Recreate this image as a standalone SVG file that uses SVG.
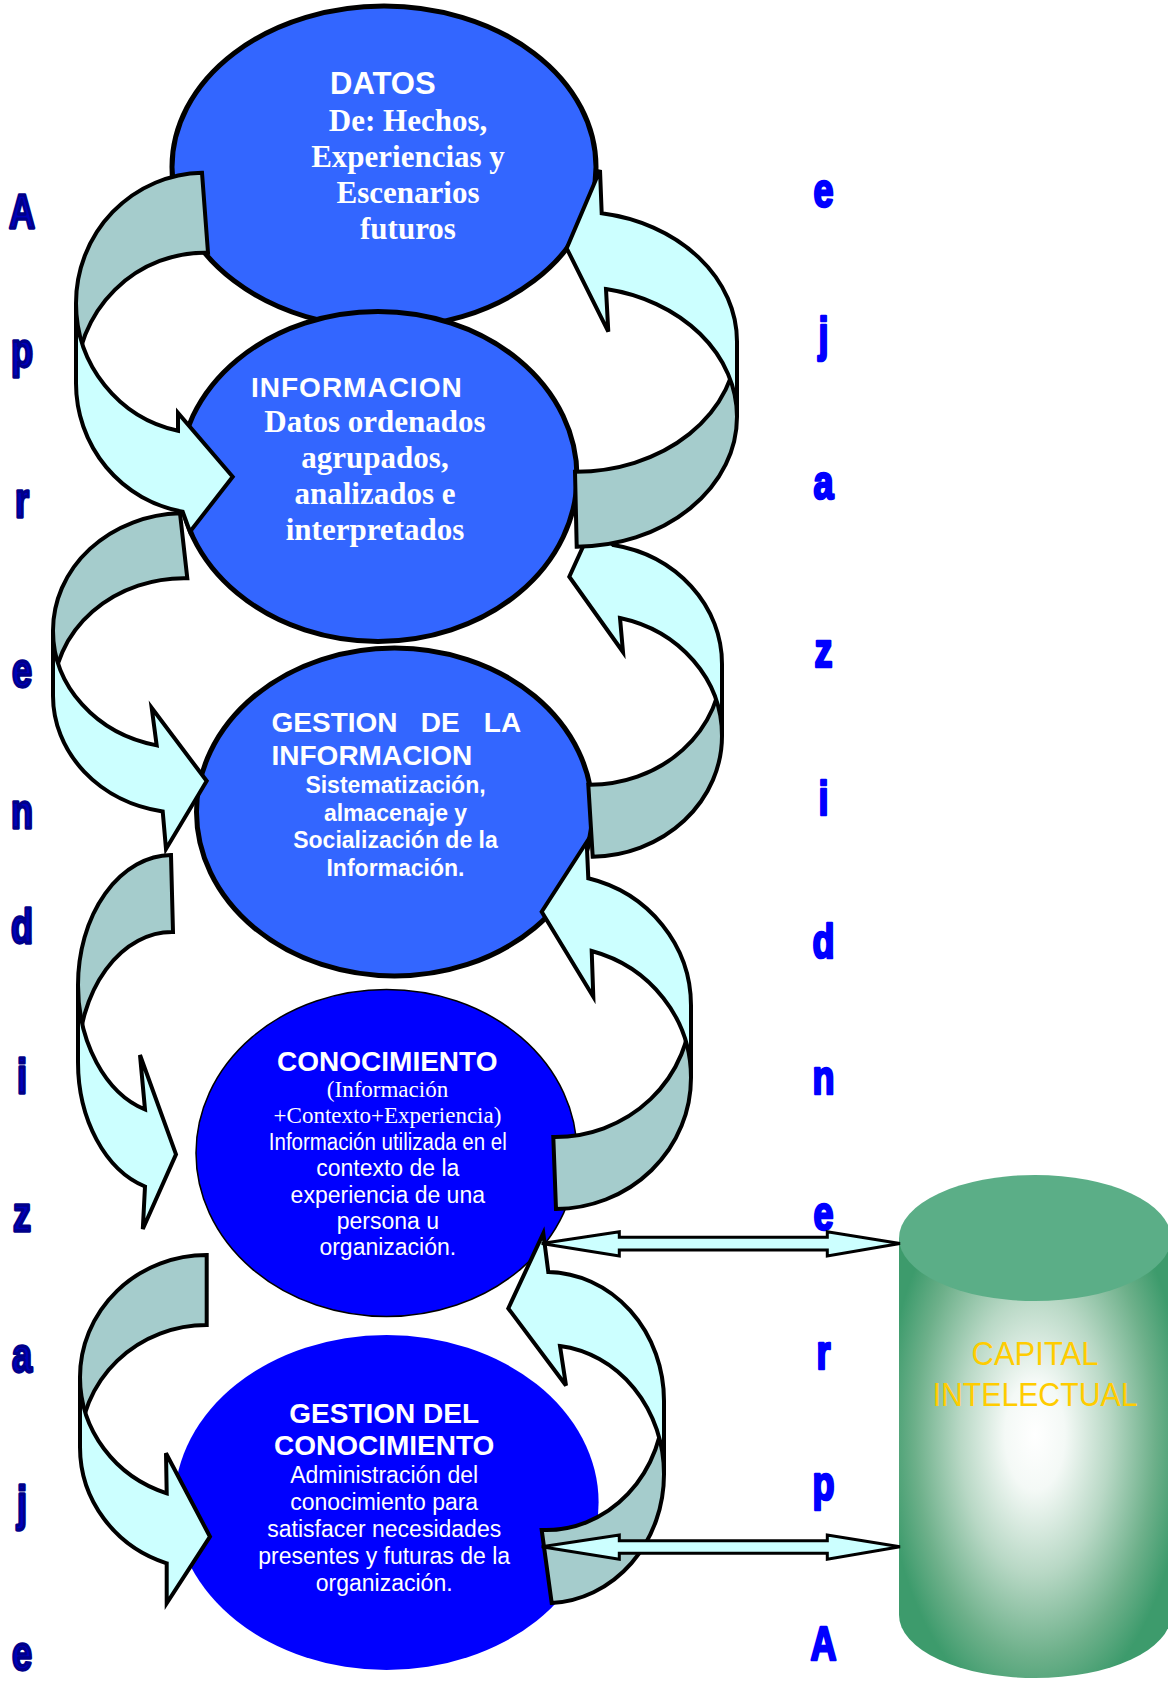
<svg xmlns="http://www.w3.org/2000/svg" width="1168" height="1683" viewBox="0 0 1168 1683">
  <defs>
    <style>
      .oval-light { fill: #3366FF; stroke: #000; stroke-width: 5; }
      .oval-deep { fill: #0000FF; }
      .back { fill: #A5CCCC; stroke: #000; stroke-width: 4; stroke-linejoin: miter; }
      .front { fill: #CCFFFF; stroke: #000; stroke-width: 4; stroke-linejoin: miter; }
      .link { fill: #CCFFFF; stroke: #000; stroke-width: 3; stroke-linejoin: miter; }
      .sans-b { font-family: "Liberation Sans", Arial, sans-serif; font-weight: bold; fill: #fff; }
      .sans { font-family: "Liberation Sans", Arial, sans-serif; fill: #fff; }
      .serif-b { font-family: "Liberation Serif", "Times New Roman", serif; font-weight: bold; fill: #fff; }
      .serif { font-family: "Liberation Serif", "Times New Roman", serif; fill: #fff; }
      .mid { text-anchor: middle; }
      .side { font-family: "Liberation Sans", Arial, sans-serif; font-weight: bold; font-size: 36px; text-anchor: middle; stroke-linejoin: round; }
      .side-l { fill: #0000BB; stroke: #00008A; stroke-width: 2.4; }
      .side-r { fill: #0000FF; stroke: #0000FF; stroke-width: 2; }
      .cap { font-family: "Liberation Sans", Arial, sans-serif; font-size: 34px; fill: #FFCC00; text-anchor: middle; }
    </style>
    <radialGradient id="cylGlow" gradientUnits="userSpaceOnUse" cx="1035" cy="1435" r="150"
                    gradientTransform="translate(1035 1435) scale(1 1.85) translate(-1035 -1435)">
      <stop offset="0" stop-color="#FFFFFF"/>
      <stop offset="0.2" stop-color="#F4F9F6"/>
      <stop offset="0.5" stop-color="#B8D8C5"/>
      <stop offset="0.8" stop-color="#6DB08A"/>
      <stop offset="1" stop-color="#3D9B6C"/>
    </radialGradient>
  </defs>

  <rect width="1168" height="1683" fill="#fff"/>

  <!-- nodes -->
  <g id="datos">
    <ellipse class="oval-light" cx="384" cy="167" rx="212" ry="161"/>
    <text class="sans-b" x="330" y="93.5" font-size="31">DATOS</text>
    <g class="serif-b mid" font-size="31">
      <text x="408" y="130.5">De: Hechos,</text>
      <text x="408" y="166.5">Experiencias y</text>
      <text x="408" y="202.5">Escenarios</text>
      <text x="408" y="238.5">futuros</text>
    </g>
  </g>

  <g id="informacion">
    <ellipse class="oval-light" cx="378" cy="476.5" rx="199" ry="165"/>
    <text class="sans-b" x="251" y="397" font-size="28" letter-spacing="1">INFORMACION</text>
    <g class="serif-b mid" font-size="31">
      <text x="375" y="431.5">Datos ordenados</text>
      <text x="375" y="467.5">agrupados,</text>
      <text x="375" y="503.5">analizados e</text>
      <text x="375" y="539.5">interpretados</text>
    </g>
  </g>

  <g id="gestion-informacion">
    <ellipse class="oval-light" cx="394.5" cy="812" rx="198" ry="164"/>
    <text class="sans-b" y="732" font-size="28"><tspan x="271.5">GESTION</tspan><tspan x="420.7">DE</tspan><tspan x="483.8">LA</tspan></text>
    <text class="sans-b" x="271.5" y="764.5" font-size="28">INFORMACION</text>
    <g class="sans-b mid" font-size="23">
      <text x="395.5" y="793">Sistematización,</text>
      <text x="395.5" y="820.6">almacenaje y</text>
      <text x="395.5" y="848.2">Socialización de la</text>
      <text x="395.5" y="875.8">Información.</text>
    </g>
  </g>

  <g id="conocimiento">
    <ellipse class="oval-deep" cx="386.5" cy="1153" rx="190.5" ry="163.5" stroke="#000" stroke-width="1.5"/>
    <text class="sans-b mid" x="387.3" y="1071" font-size="28">CONOCIMIENTO</text>
    <g class="serif mid" font-size="23">
      <text x="387.5" y="1097">(Información</text>
      <text x="387.5" y="1123">+Contexto+Experiencia)</text>
    </g>
    <g class="sans mid" font-size="23">
      <text x="387.8" y="1150" textLength="238" lengthAdjust="spacingAndGlyphs">Información utilizada en el</text>
      <text x="387.8" y="1176.3">contexto de la</text>
      <text x="387.8" y="1202.6">experiencia de una</text>
      <text x="387.8" y="1228.9">persona u</text>
      <text x="387.8" y="1255.2">organización.</text>
    </g>
  </g>

  <g id="gestion-conocimiento">
    <ellipse class="oval-deep" cx="386.6" cy="1502.5" rx="212" ry="167.5"/>
    <text class="sans-b mid" x="384.2" y="1423" font-size="28">GESTION DEL</text>
    <text class="sans-b mid" x="384.2" y="1455" font-size="28">CONOCIMIENTO</text>
    <g class="sans mid" font-size="23">
      <text x="384.2" y="1483.3">Administración del</text>
      <text x="384.2" y="1510">conocimiento para</text>
      <text x="384.2" y="1537">satisfacer necesidades</text>
      <text x="384.2" y="1564">presentes y futuras de la</text>
      <text x="384.2" y="1590.5">organización.</text>
    </g>
  </g>

  <g id="capital-intelectual">
    <path d="M899,1238 L899,1615 A136,63 0 0 0 1171,1615 L1171,1238 Z" fill="url(#cylGlow)"/>
    <ellipse cx="1035" cy="1238" rx="136" ry="63" fill="#5BAE87"/>
    <text class="cap" x="1035" y="1365" textLength="127" lengthAdjust="spacingAndGlyphs">CAPITAL</text>
    <text class="cap" x="1035" y="1406" textLength="205" lengthAdjust="spacingAndGlyphs">INTELECTUAL</text>
  </g>

  <!-- vertical captions -->
  <g id="aprendizaje-left" class="side side-l">
    <text transform="translate(22 228) scale(1 1.36)">A</text>
    <text transform="translate(22 367) scale(1 1.36)">p</text>
    <text transform="translate(22 517) scale(1 1.36)">r</text>
    <text transform="translate(22 687) scale(1 1.36)">e</text>
    <text transform="translate(22 828) scale(1 1.36)">n</text>
    <text transform="translate(22 943) scale(1 1.36)">d</text>
    <text transform="translate(22 1093) scale(1 1.36)">i</text>
    <text transform="translate(22 1231) scale(1 1.36)">z</text>
    <text transform="translate(22 1372) scale(1 1.36)">a</text>
    <text transform="translate(22 1520) scale(1 1.36)">j</text>
    <text transform="translate(22 1670) scale(1 1.36)">e</text>
  </g>
  <g id="aprendizaje-right" class="side side-r">
    <text transform="translate(823.5 206.5) scale(1 1.36)">e</text>
    <text transform="translate(823.5 351) scale(1 1.36)">j</text>
    <text transform="translate(823.5 498.5) scale(1 1.36)">a</text>
    <text transform="translate(823.5 666.5) scale(1 1.36)">z</text>
    <text transform="translate(823.5 814.5) scale(1 1.36)">i</text>
    <text transform="translate(823.5 957.5) scale(1 1.36)">d</text>
    <text transform="translate(823.5 1093.5) scale(1 1.36)">n</text>
    <text transform="translate(823.5 1229.5) scale(1 1.36)">e</text>
    <text transform="translate(823.5 1368.5) scale(1 1.36)">r</text>
    <text transform="translate(823.5 1500) scale(1 1.36)">p</text>
    <text transform="translate(823.5 1659.5) scale(1 1.36)">A</text>
  </g>

  <!-- connectors: curved ribbon arrows (back band darker, front band with head) and two-way links -->
  <g id="connectors">
    <!-- left side, downward -->
    <g id="arrow-l4">
      <path class="back" d="M206.7,1255 A126.7,122.3 0 0 0 80,1377.3 L80,1447.3 A126.7,122.3 0 0 1 206.7,1325 Z"/>
      <path class="front" d="M80,1377.3 L80,1447.3 A126.7,122.3 0 0 0 166.7,1563.3 L166.7,1603.3 L210,1536.7 L166,1453.3 L166.7,1493.3 A126.7,122.3 0 0 1 80,1377.3 Z"/>
    </g>
    <g id="arrow-l3">
      <path class="back" stroke-width="5" d="M171,855 A94,130 0 0 0 78,985 L78,1062 A94,130 0 0 1 173,932 Z"/>
      <path class="front" stroke-width="5" d="M78,985 L78,1062 A94,130 0 0 0 145,1186.5 L142.8,1229 L176,1154.3 L140,1055 L145,1109.5 A94,130 0 0 1 78,985 Z"/>
    </g>
    <g id="arrow-l2">
      <path class="back" d="M180,513.3 A131,117.3 0 0 0 53,630.6 L53,695.6 A131,117.3 0 0 1 187.3,578.3 Z"/>
      <path class="front" d="M53,630.6 L53,695.6 A131,117.3 0 0 0 162.7,811.4 L166,849 L206.7,781 L151.7,707.9 L156.7,745.4 A131,117.3 0 0 1 53,630.6 Z"/>
    </g>
    <g id="arrow-l1">
      <path class="back" d="M202,172.7 A129,130.5 0 0 0 76,303.2 L76,383.2 A129,130.5 0 0 1 208,252.7 Z"/>
      <path class="front" d="M76,303.2 L76,383.2 A129,130.5 0 0 0 182.7,511.7 L190,531.7 L232.7,476.7 L178,413 L178,430.8 A129,130.5 0 0 1 76,303.2 Z"/>
    </g>

    <!-- right side, upward -->
    <g id="arrow-r4">
      <path class="back" d="M551.7,1603 A118,129 0 0 0 664,1474 L664,1401 A118,129 0 0 1 541.7,1530 Z"/>
      <path class="front" d="M664,1474 L664,1401 A118,129 0 0 0 548.3,1272 L543.3,1233.3 L508.3,1308.4 L566,1385.5 L560,1346 A118,129 0 0 1 664,1474 Z"/>
    </g>
    <g id="arrow-r3">
      <path class="back" d="M556,1209 A136,131.3 0 0 0 691,1077.7 L691,1005.7 A136,131.3 0 0 1 553.3,1137 Z"/>
      <path class="front" d="M691,1077.7 L691,1005.7 A136,131.3 0 0 0 588.3,878.3 L586.7,842 L541.7,911.7 L593.3,996.7 L591.7,951 A136,131.3 0 0 1 691,1077.7 Z"/>
    </g>
    <g id="arrow-r2">
      <path class="back" d="M592.7,856.7 A132,120.8 0 0 0 722,735.9 L722,663.9 A132,120.8 0 0 1 588.3,784.7 Z"/>
      <path class="front" d="M722,735.9 L722,663.9 A132,120.8 0 0 0 613.3,545 L592,527 L569.3,576.7 L623,652 L620,618 A132,120.8 0 0 1 722,735.9 Z"/>
    </g>
    <g id="arrow-r1">
      <path class="back" d="M576.7,546.7 A161,130 0 0 0 737,416.7 L737,341.7 A161,130 0 0 1 575,471.7 Z"/>
      <path class="front" d="M737,416.7 L737,341.7 A161,130 0 0 0 601.7,213.3 L600,170 L566.7,248.3 L608.3,331.7 L606,289 A161,130 0 0 1 737,416.7 Z"/>
    </g>

    <!-- two-way links to the cylinder -->
    <polygon id="link-conocimiento" class="link" points="541.7,1243.5 619.3,1231.7 619.3,1237.3 827.3,1237.3 827.3,1231.7 900,1243.5 827.3,1256 827.3,1250 619.3,1250 619.3,1256"/>
    <polygon id="link-gestion" class="link" points="541.7,1546.7 619.3,1535 619.3,1540.7 827.3,1540.7 827.3,1535 900,1546.7 827.3,1559.3 827.3,1553.3 619.3,1553.3 619.3,1559.3"/>
  </g>
</svg>
